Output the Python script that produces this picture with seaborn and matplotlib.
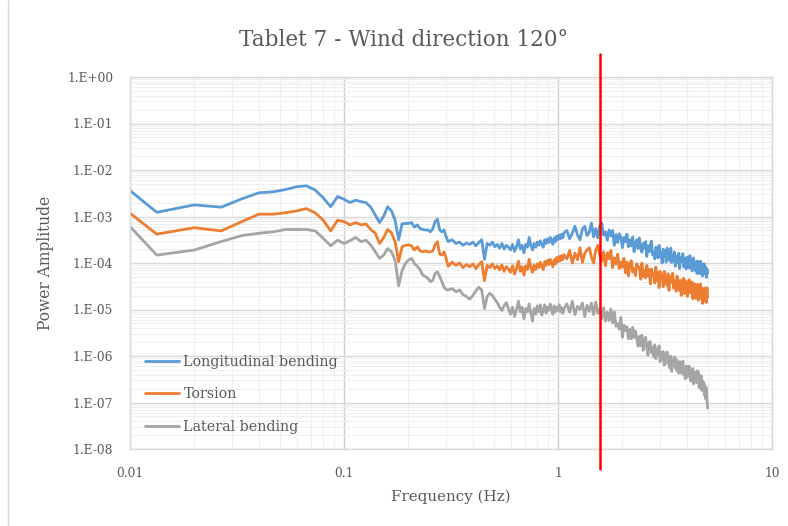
import numpy as np
import pandas as pd
import matplotlib
matplotlib.use("Agg")
import matplotlib.pyplot as plt
import matplotlib.ticker as mticker
import matplotlib.transforms as mtransforms
import seaborn as sns

# FFT bins (df = 1/150 Hz): every bin up to 0.31 Hz, thinned above that
bins = np.r_[1:47, 48:161:2, 165:751:5]
df_hz = 1 / 150

series_names = ["Longitudinal bending", "Torsion", "Lateral bending"]
colors = ["#5B9BD5", "#ED7D31", "#A5A5A5"]
cutoff_hz = 1.57

# log10(power amplitude)
long_low = [-1.78, -2.91, -2.75, -2.80, -2.62, -2.49, -2.47, -2.42, -2.36, -2.34,
            -2.43, -2.60, -2.79, -2.57, -2.63, -2.70, -2.65, -2.68, -2.70, -2.80,
            -2.97, -3.13, -2.99, -2.79, -2.88, -3.08, -3.50, -3.16, -3.15, -3.15,
            -3.13, -3.23, -3.18, -3.26, -3.28, -3.29, -3.29, -3.33, -3.26, -3.11,
            -3.06, -3.29, -3.33, -3.29, -3.43, -3.54]
long_mid = [-3.50, -3.58, -3.55, -3.62, -3.57, -3.60, -3.55, -3.63, -3.56, -3.50,
            -3.92, -3.58, -3.62, -3.55, -3.65, -3.60, -3.68, -3.58, -3.70, -3.62,
            -3.66, -3.72, -3.60, -3.75, -3.65, -3.50, -3.70, -3.62, -3.78, -3.60,
            -3.66, -3.45, -3.62, -3.72, -3.58, -3.66, -3.55, -3.62, -3.52, -3.60,
            -3.66, -3.50, -3.58, -3.48, -3.56, -3.45, -3.52, -3.60, -3.46, -3.54,
            -3.42, -3.50, -3.40, -3.48, -3.38, -3.46, -3.35]
long_high = [-3.30, -3.48, -3.36, -3.21, -3.40, -3.50, -3.27, -3.21, -3.41,
             -3.34, -3.14, -3.44, -3.26, -3.46, -3.20, -3.14, -3.40, -3.33,
             -3.51, -3.29, -3.42, -3.30, -3.62, -3.39, -3.56, -3.37, -3.45,
             -3.67, -3.45, -3.54, -3.38, -3.65, -3.50, -3.63, -3.44, -3.76,
             -3.58, -3.50, -3.69, -3.46, -3.68, -3.77, -3.58, -3.68, -3.54,
             -3.86, -3.63, -3.76, -3.61, -3.53, -3.82, -3.78, -3.91, -3.66,
             -3.72, -3.89, -3.62, -3.87, -3.77, -4.00, -3.70, -3.86, -3.75,
             -3.98, -3.68, -3.85, -3.77, -3.95, -3.68, -3.99, -3.84, -3.94,
             -3.76, -4.07, -3.88, -3.85, -4.00, -3.79, -4.12, -3.89, -3.97,
             -3.86, -3.80, -4.08, -4.03, -3.90, -4.13, -3.87, -4.02, -3.94,
             -4.11, -3.84, -4.09, -4.00, -4.17, -3.92, -3.89, -4.10, -4.16,
             -4.08, -3.97, -4.23, -3.96, -4.12, -4.02, -4.23, -3.96, -4.17,
             -4.07, -4.28, -4.02, -4.23, -4.02, -4.17, -4.09, -4.31, -4.13,
             -4.22]

tors_low = [-2.29, -3.38, -3.24, -3.31, -3.11, -2.95, -2.95, -2.92, -2.88, -2.83,
            -2.92, -3.08, -3.31, -3.08, -3.11, -3.18, -3.13, -3.18, -3.16, -3.28,
            -3.36, -3.58, -3.45, -3.28, -3.35, -3.54, -3.97, -3.65, -3.62, -3.61,
            -3.63, -3.72, -3.65, -3.74, -3.76, -3.74, -3.76, -3.76, -3.74, -3.61,
            -3.54, -3.81, -3.83, -3.76, -3.90, -4.07]
tors_mid = [-3.98, -4.05, -4.00, -4.10, -4.03, -4.08, -4.02, -4.12, -4.03, -3.97,
            -4.38, -4.05, -4.10, -4.02, -4.12, -4.06, -4.15, -4.04, -4.18, -4.08,
            -4.13, -4.20, -4.06, -4.24, -4.12, -3.96, -4.18, -4.08, -4.26, -4.06,
            -4.14, -3.92, -4.10, -4.20, -4.05, -4.14, -4.02, -4.10, -3.98, -4.07,
            -4.14, -3.97, -4.05, -3.94, -4.03, -3.92, -4.00, -4.08, -3.93, -4.02,
            -3.88, -3.97, -3.86, -3.95, -3.84, -3.93, -3.82]
tors_high = [-3.91, -3.73, -4.00, -3.79, -3.93, -3.67, -3.99, -3.79, -3.72,
             -3.67, -3.87, -4.00, -3.73, -3.62, -3.83, -3.96, -3.76, -4.06,
             -3.78, -3.91, -3.73, -4.10, -3.89, -4.02, -3.81, -4.12, -3.98,
             -4.09, -3.90, -4.21, -3.98, -4.28, -4.01, -3.95, -4.19, -4.12,
             -4.27, -4.02, -4.09, -4.09, -4.35, -4.00, -4.29, -4.16, -4.32,
             -4.05, -4.28, -4.14, -4.45, -4.13, -4.26, -4.23, -4.43, -4.09,
             -4.38, -4.20, -4.53, -4.18, -4.34, -4.25, -4.51, -4.18, -4.40,
             -4.34, -4.48, -4.23, -4.59, -4.30, -4.42, -4.29, -4.22, -4.54,
             -4.49, -4.38, -4.61, -4.28, -4.54, -4.41, -4.59, -4.37, -4.70,
             -4.42, -4.53, -4.33, -4.66, -4.38, -4.58, -4.42, -4.72, -4.48,
             -4.36, -4.64, -4.55, -4.64, -4.41, -4.77, -4.53, -4.69, -4.45,
             -4.76, -4.51, -4.63, -4.46, -4.80, -4.50, -4.65, -4.45, -4.76,
             -4.54, -4.87, -4.60, -4.76, -4.54, -4.82, -4.60, -4.85, -4.53,
             -4.74]

lat_low = [-2.35, -3.83, -3.72, -3.54, -3.41, -3.36, -3.33, -3.28, -3.28, -3.28,
           -3.31, -3.47, -3.63, -3.51, -3.58, -3.52, -3.45, -3.54, -3.51, -3.61,
           -3.76, -3.90, -3.83, -3.69, -3.76, -3.94, -4.49, -4.17, -4.01, -3.94,
           -3.90, -4.01, -4.07, -4.14, -4.26, -4.29, -4.33, -4.40, -4.37, -4.22,
           -4.19, -4.29, -4.40, -4.52, -4.57, -4.58]
lat_mid = [-4.55, -4.62, -4.58, -4.68, -4.72, -4.78, -4.70, -4.60, -4.52, -4.58,
           -4.98, -4.72, -4.65, -4.70, -4.78, -4.85, -4.95, -5.02, -4.92, -4.85,
           -4.98, -5.10, -4.95, -5.15, -5.00, -4.82, -5.05, -4.95, -5.20, -4.98,
           -5.05, -4.88, -5.08, -5.25, -4.98, -5.10, -4.92, -5.05, -4.90, -5.12,
           -5.02, -4.90, -5.08, -4.95, -5.02, -4.88, -5.00, -5.10, -4.92, -5.05,
           -4.95, -5.02, -4.90, -5.05, -4.96, -5.08, -4.98]
lat_high = [-4.88, -5.06, -4.82, -5.11, -4.93, -5.00, -4.86, -5.15, -4.91,
            -5.04, -4.86, -5.11, -4.84, -5.08, -4.99, -5.20, -4.96, -5.25,
            -5.06, -5.24, -4.99, -5.29, -5.05, -5.36, -5.30, -5.42, -5.17,
            -5.60, -5.34, -5.45, -5.37, -5.63, -5.43, -5.63, -5.38, -5.60,
            -5.46, -5.62, -5.79, -5.58, -5.78, -5.55, -5.88, -5.68, -5.60,
            -5.83, -5.98, -5.70, -5.69, -5.93, -5.82, -6.01, -5.76, -6.06,
            -5.85, -5.98, -5.78, -6.12, -5.92, -6.06, -5.90, -6.20, -5.99,
            -6.08, -5.91, -6.17, -6.02, -6.26, -6.00, -6.33, -6.09, -6.18,
            -6.02, -6.26, -6.07, -6.32, -6.19, -6.37, -6.12, -6.37, -6.19,
            -6.34, -6.11, -6.41, -6.27, -6.49, -6.22, -6.45, -6.22, -6.36,
            -6.22, -6.44, -6.53, -6.34, -6.54, -6.27, -6.60, -6.35, -6.48,
            -6.36, -6.57, -6.32, -6.58, -6.34, -6.68, -6.51, -6.63, -6.42,
            -6.74, -6.53, -6.66, -6.57, -6.84, -6.64, -6.92, -6.69, -6.94,
            -7.12]

freq = bins * df_hz
frames = []
for name, parts in zip(series_names,
                       [(long_low, long_mid, long_high),
                        (tors_low, tors_mid, tors_high),
                        (lat_low, lat_mid, lat_high)]):
    vals = np.concatenate([np.asarray(p) for p in parts])
    assert len(vals) == len(freq), (name, len(vals), len(freq))
    frames.append(pd.DataFrame({"Frequency": freq, "Power": 10.0 ** vals, "Series": name}))
data = pd.concat(frames, ignore_index=True)

sns.set_theme(style="white")
plt.rcParams["font.family"] = ["DejaVu Serif"]
text_col = "#595959"

fig = plt.figure(figsize=(7.88, 5.26), dpi=100)
ax = fig.add_axes([130 / 788, 77 / 526, 642 / 788, 372 / 526])

sns.lineplot(data=data, x="Frequency", y="Power", hue="Series",
             hue_order=series_names, palette=colors, estimator=None,
             sort=False, linewidth=2.0, ax=ax)

ax.set_xscale("log")
ax.set_yscale("log")
ax.set_xlim(0.01, 10)
ax.set_ylim(1e-8, 1)

ax.xaxis.set_major_locator(mticker.LogLocator(base=10, numticks=20))
ax.yaxis.set_major_locator(mticker.LogLocator(base=10, numticks=20))
ax.xaxis.set_minor_locator(mticker.LogLocator(base=10, subs=np.arange(2, 10), numticks=100))
ax.yaxis.set_minor_locator(mticker.LogLocator(base=10, subs=np.arange(2, 10), numticks=100))
ax.xaxis.set_major_formatter(mticker.FuncFormatter(lambda v, p: f"{v:g}"))
ax.yaxis.set_major_formatter(mticker.FuncFormatter(
    lambda v, p: f"1.E{int(round(np.log10(v))):+03d}"))
ax.yaxis.set_minor_formatter(mticker.NullFormatter())
ax.xaxis.set_minor_formatter(mticker.NullFormatter())

ax.grid(which="major", axis="y", color="#d9d9d9", linewidth=1.0)
ax.grid(which="major", axis="x", color="#cccccc", linewidth=1.0)
ax.grid(which="minor", color="#efefef", linewidth=0.8)
ax.set_axisbelow(True)
for s in ax.spines.values():
    s.set_color("#d9d9d9")
    s.set_linewidth(1.0)

ax.tick_params(which="both", length=0, labelcolor=text_col, labelsize=8.8)
ax.tick_params(axis="y", pad=12)
ax.tick_params(axis="x", pad=13)

ax.set_xlabel("Frequency (Hz)", fontsize=10.9, color=text_col)
ax.set_ylabel("Power Amplitude", fontsize=11.2, color=text_col)
ax.xaxis.label.set_va("center")
ax.yaxis.label.set_va("center")
ax.xaxis.set_label_coords(0.5, (449 - 497) / 372)
ax.yaxis.set_label_coords((45 - 130) / 642, 0.5)

# red cut-off marker, running past the plot area like the original
trans = mtransforms.blended_transform_factory(ax.transData, ax.transAxes)
ax.plot([cutoff_hz, cutoff_hz], [(449 - 469) / 372, (449 - 54) / 372],
        color="#ff0000", linewidth=1.8, transform=trans, clip_on=False, zorder=5)

handles, labels = ax.get_legend_handles_labels()
ax.legend(handles, labels, loc="upper left", bbox_to_anchor=(0.023, 0.253),
          frameon=False, fontsize=10.3, labelcolor=text_col, handlelength=2.4,
          handletextpad=0.3, labelspacing=1.3, borderpad=0, borderaxespad=0)

fig.text(404 / 788, 1 - 40 / 526, "Tablet 7 - Wind direction 120°",
         ha="center", va="center", fontsize=15.5, color=text_col)

fig.add_artist(plt.Line2D([8 / 788, 8 / 788], [0, 1], transform=fig.transFigure,
                          color="#d9d9d9", linewidth=1.0))

fig.savefig("out.png", dpi=100)
